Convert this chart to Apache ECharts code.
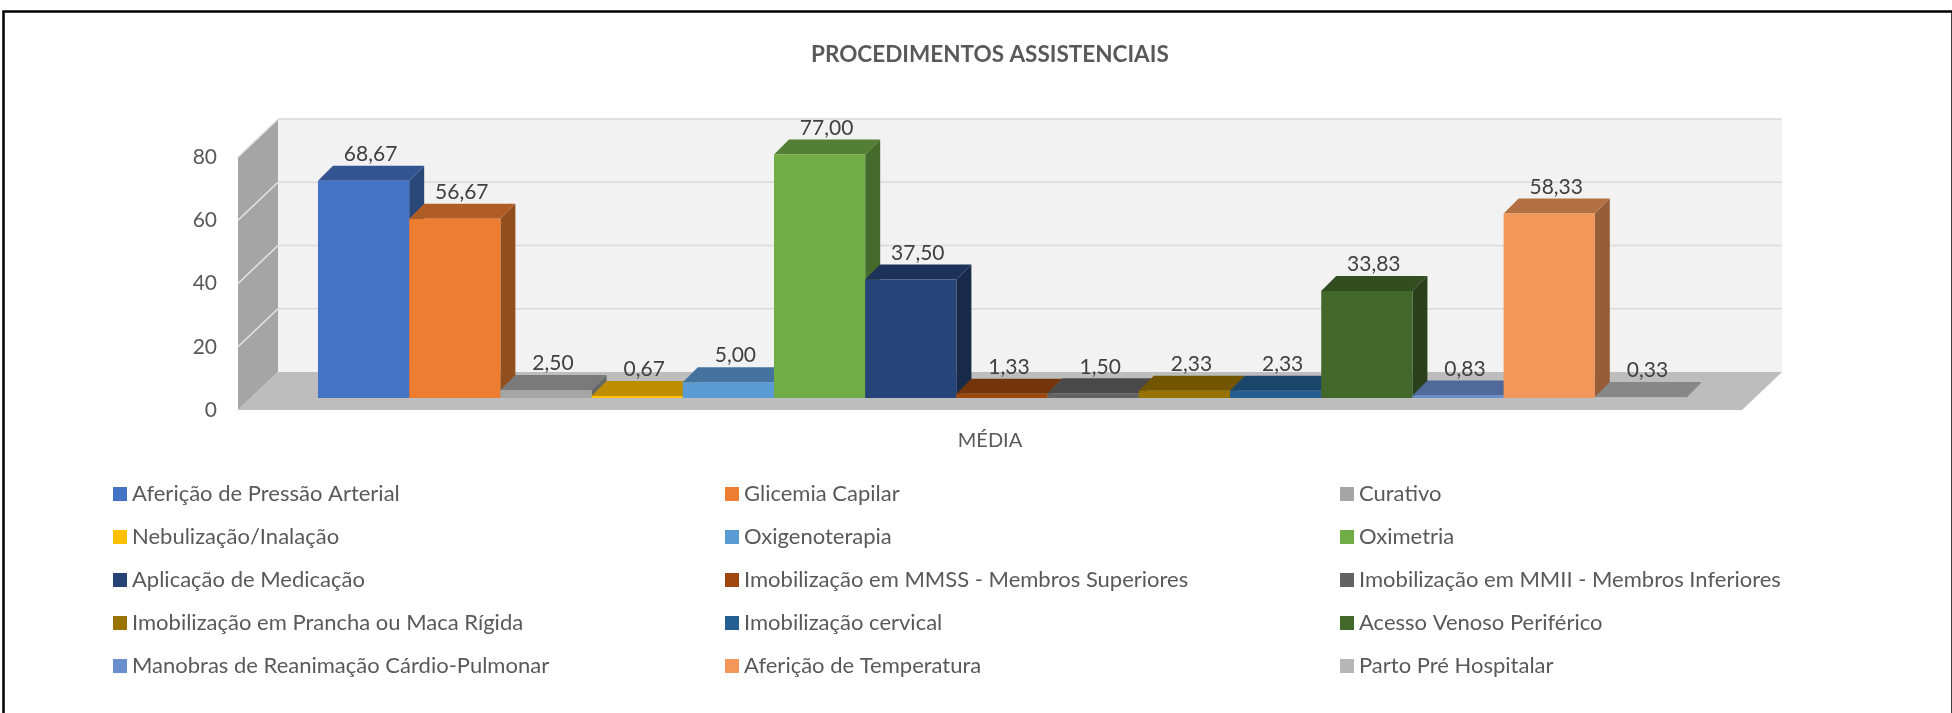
<!DOCTYPE html>
<html>
<head>
<meta charset="utf-8">
<script src="https://cdn.jsdelivr.net/npm/echarts@6/dist/echarts.min.js"></script>
<style>
html,body{margin:0;padding:0;background:#fff;}
#chart{width:1952px;height:713px;}
</style>
</head>
<body>
<div id="chart"></div>
<script>
const categories = ['MÉDIA'];
const seriesNames = [
  'Aferição de Pressão Arterial', 'Glicemia Capilar', 'Curativo',
  'Nebulização/Inalação', 'Oxigenoterapia', 'Oximetria',
  'Aplicação de Medicação', 'Imobilização em MMSS - Membros Superiores', 'Imobilização em MMII - Membros Inferiores',
  'Imobilização em Prancha ou Maca Rígida', 'Imobilização cervical', 'Acesso Venoso Periférico',
  'Manobras de Reanimação Cárdio-Pulmonar', 'Aferição de Temperatura', 'Parto Pré Hospitalar'
];
const seriesValues = [68.67, 56.67, 2.50, 0.67, 5.00, 77.00, 37.50, 1.33, 1.50, 2.33, 2.33, 33.83, 0.83, 58.33, 0.33];
const seriesColors = [
  '#4472C4', '#ED7D31', '#A5A5A5', '#FFC000', '#5B9BD5', '#70AD47',
  '#264478', '#9E480E', '#636363', '#997300', '#255E91', '#43682B',
  '#698ED0', '#F1975A', '#B7B7B7'
];
const yTicks = [0, 20, 40, 60, 80];

const FONT = 'Lato, "Open Sans", sans-serif';
const DEPTH = [40, -38];      // floor / wall depth
const BAR_OFF = [12, -12];    // bar front face offset from front plane
const BAR_DEPTH = [15, -15];  // bar depth
const BAR_FRACTION = 0.9096;

function shade(hex, f) {
  const n = parseInt(hex.slice(1), 16);
  const r = Math.round(((n >> 16) & 255) * f);
  const g = Math.round(((n >> 8) & 255) * f);
  const b = Math.round((n & 255) * f);
  return 'rgb(' + r + ',' + g + ',' + b + ')';
}
function fmt(v) { return v.toFixed(2).replace('.', ','); }

const chart = echarts.init(document.getElementById('chart'), null, {renderer: 'canvas'});

function renderWalls(params, api) {
  const cs = params.coordSys;
  const x0 = cs.x, x1 = cs.x + cs.width;
  const y0 = api.coord([0, yTicks[0]])[1];
  const yTop = api.coord([0, yTicks[yTicks.length - 1]])[1];
  const dx = DEPTH[0], dy = DEPTH[1];
  const children = [];
  children.push({type: 'polygon', shape: {points: [[x0 + dx, yTop + dy], [x1 + dx, yTop + dy], [x1 + dx, y0 + dy], [x0 + dx, y0 + dy]]},
    style: {fill: '#F2F2F2'}, z2: 0});
  children.push({type: 'polygon', shape: {points: [[x0, y0], [x0, yTop], [x0 + dx, yTop + dy], [x0 + dx, y0 + dy]]},
    style: {fill: '#A5A5A5'}, z2: 1});
  yTicks.forEach(function (t) {
    if (t === yTicks[0]) return;
    const y = api.coord([0, t])[1];
    children.push({type: 'line', shape: {x1: x0 + dx, y1: y + dy, x2: x1 + dx, y2: y + dy},
      style: {stroke: '#D9D9D9', lineWidth: 1.5}, z2: 2});
    children.push({type: 'line', shape: {x1: x0, y1: y, x2: x0 + dx, y2: y + dy},
      style: {stroke: '#E6E6E6', lineWidth: 1.5}, z2: 2});
  });
  children.push({type: 'polygon', shape: {points: [[x0, y0], [x1, y0], [x1 + dx, y0 + dy], [x0 + dx, y0 + dy]]},
    style: {fill: '#BDBDBD'}, z2: 3});
  return {type: 'group', children: children};
}

function makeBarRenderer(i) {
  return function (params, api) {
    const n = seriesValues.length;
    const band = api.size([1, 0])[0];
    const base = api.coord([api.value(0), 0]);
    const top = api.coord([api.value(0), api.value(1)]);
    const total = band * BAR_FRACTION;
    const w = total / n;
    const xl = base[0] - total / 2 + i * w + BAR_OFF[0];
    const yb = base[1] + BAR_OFF[1];
    const yt = top[1] + BAR_OFF[1];
    const ddx = BAR_DEPTH[0], ddy = BAR_DEPTH[1];
    const c = seriesColors[i];
    return {type: 'group', children: [
      {type: 'polygon', z2: i * 3, shape: {points: [[xl + w, yt], [xl + w, yb], [xl + w + ddx, yb + ddy], [xl + w + ddx, yt + ddy]]},
        style: {fill: shade(c, 0.62)}},
      {type: 'polygon', z2: i * 3 + 1, shape: {points: [[xl, yt], [xl + w, yt], [xl + w + ddx, yt + ddy], [xl + ddx, yt + ddy]]},
        style: {fill: shade(c, 0.74)}},
      {type: 'rect', z2: i * 3 + 2, shape: {x: xl, y: yt, width: w, height: yb - yt},
        style: {fill: c}},
      {type: 'text', z2: 1000, style: {text: fmt(api.value(1)), x: xl + w / 2 + 7, y: yt + ddy - 1,
        align: 'center', verticalAlign: 'bottom', fill: '#404040', font: '21px ' + FONT}}
    ]};
  };
}

const series = [{
  type: 'custom', name: '__walls', z: 1, silent: true,
  renderItem: renderWalls, data: [[0, 0]], encode: {x: 0, y: 1}
}];
seriesNames.forEach(function (name, i) {
  series.push({
    type: 'custom', name: name, z: 2, itemStyle: {color: seriesColors[i]},
    renderItem: makeBarRenderer(i), data: [[0, seriesValues[i]]], encode: {x: 0, y: 1}
  });
});

const legendX = [108, 720, 1335];
const legends = legendX.map(function (lx, c) {
  return {
    orient: 'vertical', left: lx, top: 478, itemWidth: 14, itemHeight: 14, itemGap: 21,
    icon: 'rect', selectedMode: false,
    data: seriesNames.filter(function (_, k) { return k % 3 === c; }),
    textStyle: {fontFamily: FONT, fontSize: 22, color: '#595959', lineHeight: 22}
  };
});

chart.setOption({
  animation: false,
  backgroundColor: '#fff',
  title: {text: 'PROCEDIMENTOS ASSISTENCIAIS', left: 806, top: 38,
    textStyle: {fontFamily: FONT, fontSize: 22.5, fontWeight: 'bold', color: '#595959'}},
  grid: {left: 238, right: 210, top: 157, bottom: 303, containLabel: false},
  xAxis: {type: 'category', data: categories,
    axisLine: {show: false}, axisTick: {show: false}, splitLine: {show: false},
    axisLabel: {margin: 21, fontSize: 20, fontFamily: FONT, color: '#595959'}},
  yAxis: {type: 'value', min: 0, max: 80, interval: 20,
    axisLine: {show: false}, axisTick: {show: false}, splitLine: {show: false},
    axisLabel: {margin: 21, fontSize: 21, fontFamily: FONT, color: '#595959'}},
  legend: legends,
  graphic: [{type: 'rect', left: 1, top: 9, silent: true,
    shape: {x: 0, y: 0, width: 1949, height: 720},
    style: {fill: 'none', stroke: '#000', lineWidth: 2.5}}],
  series: series
});
</script>
</body>
</html>
